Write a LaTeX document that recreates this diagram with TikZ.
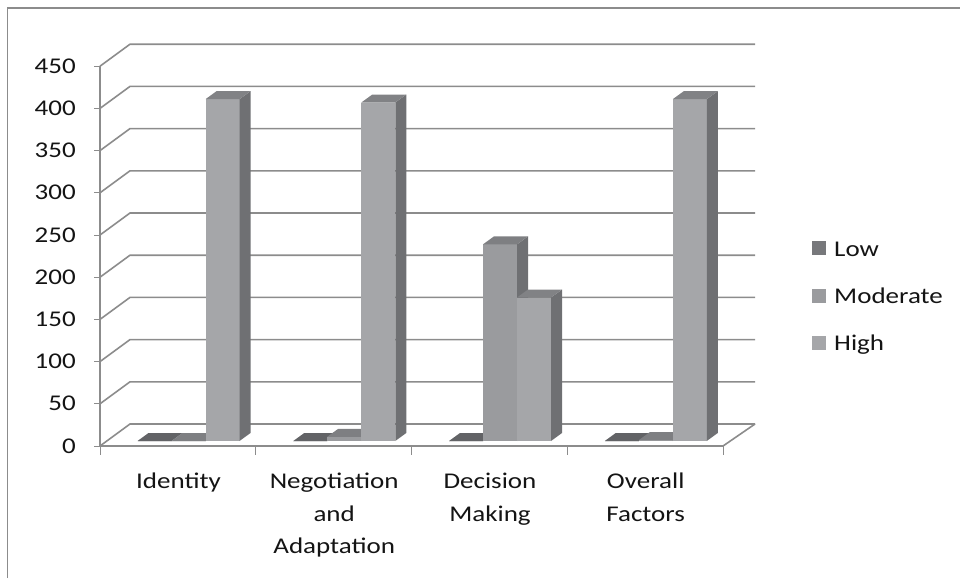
\documentclass[tikz,border=0pt]{standalone}
\usepackage{fontspec}
\setmainfont[FakeStretch=1.2]{Carlito}
\usetikzlibrary{positioning}

\definecolor{gridgray}{HTML}{8C8C8C}
\definecolor{lowfront}{HTML}{77787B}
\definecolor{lowtop}{HTML}{626366}
\definecolor{modfront}{HTML}{9A9B9E}
\definecolor{modtop}{HTML}{7E7F82}
\definecolor{highfront}{HTML}{A5A6A9}
\definecolor{hightop}{HTML}{818285}
\definecolor{barside}{HTML}{6F7073}

% bar: left x, value, front colour, top colour
\newcommand{\barbox}[4]{%
  \pgfmathsetmacro{\bt}{441-0.844*#2}
  \fill[#3] (#1,441) rectangle (#1+34,\bt);
  \fill[barside] (#1+34,441) -- (#1+45,433) -- (#1+45,\bt-8) -- (#1+34,\bt) -- cycle;
  \fill[#4] (#1,\bt) -- (#1+11,\bt-8) -- (#1+45,\bt-8) -- (#1+34,\bt) -- cycle;
}

\tikzset{
  grid/.style={gridgray,line width=1.6pt},
  tickmark/.style={gridgray,line width=1pt},
  ylab/.style={anchor=base east,inner sep=0pt},
  catlab/.style={anchor=north,align=center,inner sep=0pt},
  key/.style={anchor=base west,inner sep=0pt}
}

\begin{document}
\begin{tikzpicture}[x=1pt,y=-1pt,font=\fontsize{22.5}{32.5}\selectfont,text={black!92}]
  \useasboundingbox (0,0) rectangle (960,578);

  % frame
  \draw[gridgray,line width=1.5pt] (7.5,578) -- (7.5,8) -- (960,8);

  % walls and grid
  \foreach \v in {0,50,...,450} {
    \pgfmathsetmacro{\gy}{446-0.844*\v}
    \draw[grid] (100,\gy) -- (130,\gy-22) -- (755,\gy-22);
    \draw[tickmark] (94,\gy) -- (100,\gy);
    \node[ylab] (y\v) at (76,\gy+7) {\v};
  }
  \draw[grid] (100,66.2) -- (100,446) -- (723,446) -- (755,424);
  \foreach \i in {0,...,4}
    \draw[tickmark] (100+155.75*\i,446) -- ++(0,9);

  % bars
  \foreach \i/\lo/\mo/\hi in {0/0/0/405,1/0/5/401,2/0/233/170,3/0/1/405} {
    \pgfmathsetmacro{\bx}{137.5+155.75*\i}
    \barbox{\bx}{\lo}{lowfront}{lowtop}
    \barbox{\bx+34}{\mo}{modfront}{modtop}
    \barbox{\bx+68}{\hi}{highfront}{hightop}
  }

  % categories
  \node[catlab] (c1) at (178.5,473) {Identity};
  \node[catlab] (c2) at (334.2,473) {Negotiation\\and\\Adaptation};
  \node[catlab] (c3) at (490,473) {Decision\\Making};
  \node[catlab] (c4) at (645.7,473) {Overall\\Factors};

  % legend
  \fill[lowfront]  (812,241) rectangle ++(14,14);
  \fill[modfront]  (812,289) rectangle ++(14,14);
  \fill[highfront] (812,336) rectangle ++(14,14);
  \node[key] (low)  at (834,256) {Low};
  \node[key] (mod)  at (834,303) {Moderate};
  \node[key] (high) at (834,350) {High};
\end{tikzpicture}
\end{document}
